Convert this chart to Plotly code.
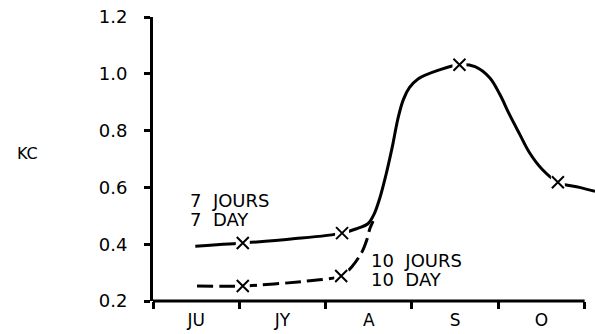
import plotly.graph_objects as go

# Month labels (centred in each month) and Kc ticks
months = ["JU", "JY", "A", "S", "O"]
month_centres = [0.5, 1.5, 2.5, 3.5, 4.5]
month_edges = [0, 1, 2, 3, 4, 5]
kc_ticks = [0.2, 0.4, 0.6, 0.8, 1.0, 1.2]

# Kc curve, 7-day irrigation interval (x in months from start of June)
kc7_x = [0.49, 1.04, 1.60, 2.19, 2.37, 2.49, 2.56, 2.63, 2.70, 2.77, 2.84,
         2.90, 2.97, 3.07, 3.32, 3.55, 3.73, 3.90, 4.02, 4.13, 4.25, 4.36,
         4.51, 4.69, 4.94, 5.12]
kc7_y = [0.393, 0.404, 0.418, 0.439, 0.456, 0.472, 0.505, 0.565, 0.646,
         0.740, 0.846, 0.909, 0.951, 0.982, 1.014, 1.032, 1.025, 0.986,
         0.926, 0.856, 0.786, 0.723, 0.663, 0.618, 0.600, 0.586]
kc7_obs_x = [1.04, 2.19, 3.55, 4.69]
kc7_obs_y = [0.404, 0.439, 1.032, 0.618]

# Kc curve, 10-day irrigation interval
kc10_x = [0.51, 1.04, 1.78, 2.18, 2.31, 2.42, 2.48, 2.51, 2.55]
kc10_y = [0.253, 0.253, 0.270, 0.288, 0.323, 0.372, 0.418, 0.453, 0.481]
kc10_obs_x = [1.04, 2.18]
kc10_obs_y = [0.253, 0.288]

FONT = "DejaVu Sans"
INK = "black"

fig = go.Figure()

fig.add_trace(go.Scatter(x=kc7_x, y=kc7_y, mode="lines",
                         line=dict(color=INK, width=3, shape="spline", smoothing=1.0),
                         showlegend=False, hoverinfo="skip"))
fig.add_trace(go.Scatter(x=kc10_x, y=kc10_y, mode="lines",
                         line=dict(color=INK, width=3, dash="16px,6px",
                                   shape="spline", smoothing=0.8),
                         showlegend=False, hoverinfo="skip"))

# observation points: a white patch breaks the line, then the cross on top
for ox, oy in ((kc7_obs_x, kc7_obs_y), (kc10_obs_x, kc10_obs_y)):
    fig.add_trace(go.Scatter(x=ox, y=oy, mode="markers",
                             marker=dict(symbol="square", size=14, color="white",
                                         line=dict(width=0)),
                             showlegend=False, hoverinfo="skip"))
    fig.add_trace(go.Scatter(x=ox, y=oy, mode="markers",
                             marker=dict(symbol="x-thin", size=12,
                                         line=dict(color=INK, width=2)),
                             showlegend=False, hoverinfo="skip"))

# horizontal axis line, stopping at the end of October
fig.add_shape(type="line", xref="x", yref="paper",
              x0=month_edges[0], x1=month_edges[-1], y0=0, y1=0,
              line=dict(color=INK, width=3))

ann_font = dict(family=FONT, size=18, color=INK)
fig.add_annotation(text="KC", xref="paper", yref="y", x=-0.285, y=0.72,
                   showarrow=False, xanchor="center", yanchor="middle",
                   font=dict(family=FONT, size=16, color=INK))
fig.add_annotation(text="7\u00a0\u00a0JOURS", x=0.41, y=0.555, showarrow=False,
                   xanchor="left", yanchor="middle", font=ann_font)
fig.add_annotation(text="7\u00a0\u00a0DAY", x=0.41, y=0.488, showarrow=False,
                   xanchor="left", yanchor="middle", font=ann_font)
fig.add_annotation(text="10\u00a0\u00a0JOURS", x=2.50, y=0.341, showarrow=False,
                   xanchor="left", yanchor="middle", font=ann_font)
fig.add_annotation(text="10\u00a0\u00a0DAY", x=2.50, y=0.274, showarrow=False,
                   xanchor="left", yanchor="middle", font=ann_font)

fig.update_layout(
    width=595, height=334,
    margin=dict(l=153, r=0, t=17, b=33),
    paper_bgcolor="white", plot_bgcolor="white",
    font=dict(family=FONT, size=18, color=INK),
    xaxis=dict(range=[0, 5.12], showgrid=False, zeroline=False, showline=False,
               tickmode="array", tickvals=month_centres, ticktext=months,
               ticks="", ticklabelstandoff=7,
               tickfont=dict(family=FONT, size=17, color=INK),
               minor=dict(tickmode="array", tickvals=month_edges, ticks="outside",
                          ticklen=7, tickwidth=3, tickcolor=INK, showgrid=False)),
    yaxis=dict(range=[0.2, 1.2], showgrid=False, zeroline=False,
               showline=True, linewidth=3, linecolor=INK,
               tickmode="array", tickvals=kc_ticks,
               ticktext=[f"{v:.1f}" for v in kc_ticks],
               ticks="outside", ticklen=6, tickwidth=3, tickcolor=INK,
               ticklabelstandoff=13,
               tickfont=dict(family=FONT, size=18, color=INK)),
)

fig.write_html("out.html")
